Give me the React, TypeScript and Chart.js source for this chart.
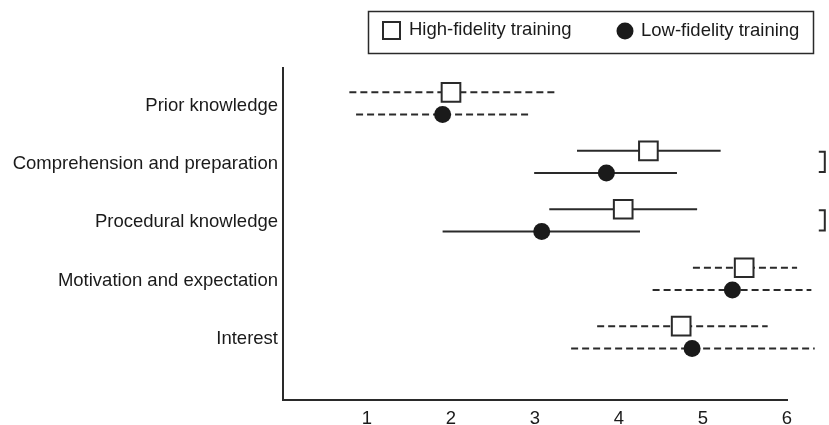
import { useEffect, useRef } from 'react';
import { Chart, registerables } from 'chart.js';
Chart.register(...registerables);

const categories = [
  'Prior knowledge',
  'Comprehension and preparation',
  'Procedural knowledge',
  'Motivation and expectation',
  'Interest',
];
const seriesNames = ['High-fidelity training', 'Low-fidelity training'];
const highMean = [2.0, 4.35, 4.05, 5.49, 4.74];
const highLower = [0.79, 3.5, 3.17, 4.88, 3.74];
const highUpper = [3.25, 5.21, 4.93, 6.12, 5.77];
const lowMean = [1.9, 3.85, 3.08, 5.35, 4.87];
const lowLower = [0.87, 2.99, 1.9, 4.4, 3.43];
const lowUpper = [2.96, 4.69, 4.25, 6.29, 6.33];
const dashedRows = [true, false, false, true, true];
const significantRows = [false, true, true, false, false];
const xTicks = [1, 2, 3, 4, 5, 6];

const OFFSET = 0.19;
const BRACKET_X = 6.45;
const FONT = '"Liberation Sans", Arial, sans-serif';
const FONT_SIZE = 18.5;
const TEXT = '#1a1a1a';
const LINE = '#2a2a2a';

export default function App() {
  const ref = useRef<HTMLCanvasElement>(null);
  useEffect(() => {
    document.body.style.margin = '0';
    const canvas = ref.current!;

    const errorBars = {
      id: 'errorBars',
      beforeDatasetsDraw(chart: any) {
        const { ctx } = chart;
        const xs = chart.scales.x;
        const ys = chart.scales.y;
        ctx.save();
        ctx.strokeStyle = LINE;
        ctx.lineWidth = 2;
        const rows = [
          { lo: highLower, hi: highUpper, off: -OFFSET },
          { lo: lowLower, hi: lowUpper, off: OFFSET },
        ];
        categories.forEach((_, i) => {
          rows.forEach((r) => {
            const y = ys.getPixelForValue(i + r.off);
            ctx.setLineDash(dashedRows[i] ? [7, 4] : []);
            ctx.beginPath();
            ctx.moveTo(xs.getPixelForValue(r.lo[i]), y);
            ctx.lineTo(xs.getPixelForValue(r.hi[i]), y);
            ctx.stroke();
          });
          if (significantRows[i]) {
            ctx.setLineDash([]);
            const bx = xs.getPixelForValue(BRACKET_X);
            const y1 = ys.getPixelForValue(i - OFFSET) + 1;
            const y2 = ys.getPixelForValue(i + OFFSET) - 1;
            ctx.beginPath();
            ctx.moveTo(bx - 6, y1);
            ctx.lineTo(bx, y1);
            ctx.lineTo(bx, y2);
            ctx.lineTo(bx - 6, y2);
            ctx.stroke();
          }
        });
        ctx.restore();
      },
    };

    const legendBox = {
      id: 'legendBox',
      afterDraw(chart: any) {
        const { ctx } = chart;
        ctx.save();
        ctx.strokeStyle = LINE;
        ctx.lineWidth = 1.5;
        ctx.strokeRect(368.5, 11.5, 445, 42);
        ctx.fillStyle = '#fff';
        ctx.lineWidth = 2;
        ctx.fillRect(383, 22, 17, 17);
        ctx.strokeRect(383, 22, 17, 17);
        ctx.fillStyle = '#1a1a1a';
        ctx.beginPath();
        ctx.arc(625, 31, 8.5, 0, Math.PI * 2);
        ctx.fill();
        ctx.fillStyle = TEXT;
        ctx.font = `${FONT_SIZE}px ${FONT}`;
        ctx.textBaseline = 'middle';
        ctx.textAlign = 'left';
        ctx.fillText(seriesNames[0], 409, 30);
        ctx.fillText(seriesNames[1], 641, 31);
        ctx.restore();
      },
    };

    const chart = new Chart(canvas, {
      type: 'scatter',
      data: {
        datasets: [
          {
            label: seriesNames[0],
            data: highMean.map((v, i) => ({ x: v, y: i - OFFSET })),
            pointStyle: 'rect',
            pointRadius: 13.2,
            pointHoverRadius: 13.2,
            backgroundColor: '#ffffff',
            borderColor: LINE,
            borderWidth: 2,
          },
          {
            label: seriesNames[1],
            data: lowMean.map((v, i) => ({ x: v, y: i + OFFSET })),
            pointStyle: 'circle',
            pointRadius: 8.5,
            pointHoverRadius: 8.5,
            backgroundColor: '#1a1a1a',
            borderColor: '#1a1a1a',
            borderWidth: 0,
          },
        ],
      },
      options: {
        responsive: false,
        animation: false,
        clip: false as any,
        layout: { padding: { top: 68, right: 42, left: 0, bottom: 0 } },
        plugins: { legend: { display: false }, tooltip: { enabled: false } },
        scales: {
          x: {
            type: 'linear',
            min: 0,
            max: 6,
            grid: { display: false, drawTicks: false },
            border: { color: LINE, width: 2 },
            ticks: { font: { family: FONT, size: FONT_SIZE }, color: TEXT, padding: 8 },
            afterBuildTicks: (s: any) => {
              s.ticks = xTicks.map((v) => ({ value: v }));
            },
            afterFit: (s: any) => {
              s.height = 25;
            },
          },
          y: {
            type: 'linear',
            reverse: true,
            min: -0.607,
            max: 5.073,
            grid: { display: false, drawTicks: false },
            border: { color: LINE, width: 2 },
            ticks: {
              font: { family: FONT, size: FONT_SIZE },
              color: TEXT,
              padding: 5,
              labelOffset: 2,
              callback: (v: any) => categories[v] ?? '',
            },
            afterBuildTicks: (s: any) => {
              s.ticks = categories.map((_, i) => ({ value: i }));
            },
            afterFit: (s: any) => {
              s.width = 283;
            },
          },
        },
      },
      plugins: [errorBars, legendBox],
    });
    return () => chart.destroy();
  }, []);
  return (
    <canvas
      ref={ref}
      width={829}
      height={425}
      style={{ display: 'block', width: 829, height: 425 }}
    />
  );
}
